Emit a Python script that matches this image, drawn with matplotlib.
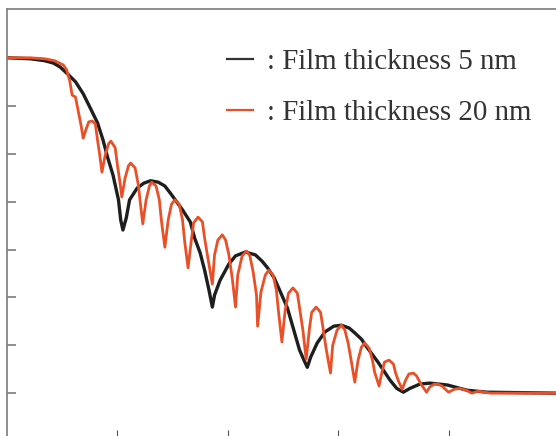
import matplotlib
matplotlib.use("Agg")
import matplotlib.pyplot as plt

# ── Data (x ~ angle, y ~ log intensity) ──────────────────────────────────────
x_5nm = [0.00, 0.21, 0.34, 0.42, 0.48, 0.55, 0.62, 0.69, 0.75, 0.82, 0.87,
         0.91, 0.96, 1.01, 1.03, 1.05, 1.08, 1.11, 1.18, 1.24, 1.30, 1.37,
         1.43, 1.48, 1.59, 1.66, 1.70, 1.75, 1.79, 1.83, 1.86, 1.88, 1.93,
         2.01, 2.07, 2.16, 2.25, 2.31, 2.36, 2.42, 2.47, 2.54, 2.59, 2.65,
         2.69, 2.72, 2.75, 2.81, 2.88, 2.96, 3.03, 3.10, 3.15, 3.21, 3.26,
         3.36, 3.47, 3.53, 3.59, 3.65, 3.74, 3.83, 3.99, 4.17, 4.35, 4.97]
y_5nm = [7.01, 6.99, 6.95, 6.90, 6.82, 6.67, 6.51, 6.26, 5.98, 5.65, 5.29,
         4.94, 4.56, 4.04, 3.62, 3.41, 3.66, 4.04, 4.29, 4.39, 4.44, 4.41,
         4.33, 4.18, 3.83, 3.58, 3.24, 2.93, 2.57, 2.15, 1.80, 2.05, 2.36,
         2.70, 2.87, 2.95, 2.89, 2.76, 2.62, 2.41, 2.15, 1.78, 1.38, 0.90,
         0.69, 0.54, 0.75, 1.05, 1.28, 1.40, 1.42, 1.36, 1.26, 1.13, 0.96,
         0.65, 0.27, 0.10, 0.02, 0.10, 0.19, 0.21, 0.17, 0.06, 0.02, 0.00]

x_20nm = [0.00, 0.21, 0.34, 0.43, 0.51, 0.54, 0.57, 0.59, 0.62, 0.64, 0.67,
          0.69, 0.72, 0.74, 0.77, 0.80, 0.82, 0.84, 0.86, 0.89, 0.92, 0.94,
          0.98, 1.00, 1.02, 1.04, 1.07, 1.10, 1.12, 1.16, 1.19, 1.21, 1.23,
          1.26, 1.29, 1.31, 1.35, 1.38, 1.40, 1.43, 1.46, 1.49, 1.52, 1.56,
          1.59, 1.61, 1.64, 1.67, 1.69, 1.73, 1.77, 1.79, 1.82, 1.86, 1.88,
          1.91, 1.95, 1.98, 2.01, 2.04, 2.07, 2.09, 2.13, 2.17, 2.20, 2.23,
          2.26, 2.27, 2.30, 2.34, 2.37, 2.41, 2.44, 2.46, 2.49, 2.52, 2.55,
          2.59, 2.63, 2.65, 2.68, 2.71, 2.74, 2.76, 2.80, 2.84, 2.86, 2.89,
          2.93, 2.95, 2.99, 3.03, 3.06, 3.09, 3.12, 3.15, 3.18, 3.21, 3.24,
          3.28, 3.31, 3.33, 3.37, 3.40, 3.42, 3.46, 3.50, 3.52, 3.55, 3.58,
          3.61, 3.64, 3.68, 3.71, 3.75, 3.80, 3.83, 3.87, 3.90, 3.94, 3.98,
          4.00, 4.05, 4.10, 4.16, 4.21, 4.27, 4.32, 4.38, 4.97]
y_20nm = [7.01, 7.01, 6.99, 6.95, 6.86, 6.76, 6.51, 6.23, 6.19, 5.96, 5.61,
          5.33, 5.54, 5.67, 5.69, 5.63, 5.29, 4.98, 4.62, 4.98, 5.21, 5.27,
          5.13, 4.77, 4.46, 4.10, 4.50, 4.75, 4.81, 4.71, 4.35, 3.93, 3.54,
          4.04, 4.33, 4.41, 4.33, 4.04, 3.58, 3.05, 3.62, 3.95, 4.04, 3.95,
          3.62, 3.16, 2.62, 3.20, 3.56, 3.68, 3.58, 3.24, 2.82, 2.28, 2.89,
          3.20, 3.31, 3.20, 2.89, 2.41, 1.80, 2.47, 2.87, 2.97, 2.87, 2.53,
          2.05, 1.40, 2.11, 2.47, 2.57, 2.47, 2.15, 1.69, 1.07, 1.74, 2.09,
          2.20, 2.09, 1.78, 1.32, 0.71, 1.36, 1.69, 1.80, 1.69, 1.40, 0.94,
          0.42, 1.00, 1.32, 1.42, 1.32, 1.05, 0.65, 0.23, 0.69, 0.96, 1.05,
          0.94, 0.69, 0.44, 0.15, 0.48, 0.65, 0.69, 0.61, 0.42, 0.23, 0.08,
          0.27, 0.40, 0.42, 0.36, 0.19, 0.02, 0.13, 0.19, 0.19, 0.15, 0.06,
          0.02, 0.08, 0.10, 0.06, 0.00, 0.04, 0.02, 0.00, 0.00]

labels = [': Film thickness 5 nm', ': Film thickness 20 nm']

c_black = '#1e1e1e'
c_red = '#ea5028'
c_axis = '#858585'

# ── Plot ─────────────────────────────────────────────────────────────────────
fig = plt.figure(figsize=(5.56, 4.36), dpi=100, facecolor='white')
# axes run past the right/bottom edge of the picture (cropped frame)
ax = fig.add_axes([7/556, -5/436, 552/556, 432/436])

ax.plot(x_5nm, y_5nm, color=c_black, linewidth=2.4, zorder=2,
        solid_joinstyle='round')
ax.plot(x_20nm, y_20nm, color=c_red, linewidth=2.0, zorder=3,
        solid_joinstyle='round')

ax.set_xlim(0, 5)
ax.set_ylim(-1.0, 8.03)
ax.set_xticks([1, 2, 3, 4])
ax.set_yticks(range(0, 8))
ax.set_xticklabels([])
ax.set_yticklabels([])
ax.tick_params(axis='y', direction='in', length=6.5, width=1.3, color=c_axis)
ax.tick_params(axis='x', direction='in', length=8, width=0.8, color='#555555')
for s in ax.spines.values():
    s.set_color(c_axis)
    s.set_linewidth(1.3)

# legend
h1 = plt.Line2D([], [], color='#333333', linewidth=1.6)
h2 = plt.Line2D([], [], color=c_red, linewidth=1.6)
leg = fig.legend([h1, h2], labels, loc='upper left',
                 bbox_to_anchor=(227/556, 1 - 49/436),
                 frameon=False, borderpad=0, borderaxespad=0,
                 handlelength=0.9, handletextpad=0.5, labelspacing=0.85,
                 prop={'family': 'Liberation Serif', 'size': 20.8})
for t in leg.get_texts():
    t.set_color('#333333')

plt.savefig('out.png', dpi=100, facecolor='white')
plt.close()
